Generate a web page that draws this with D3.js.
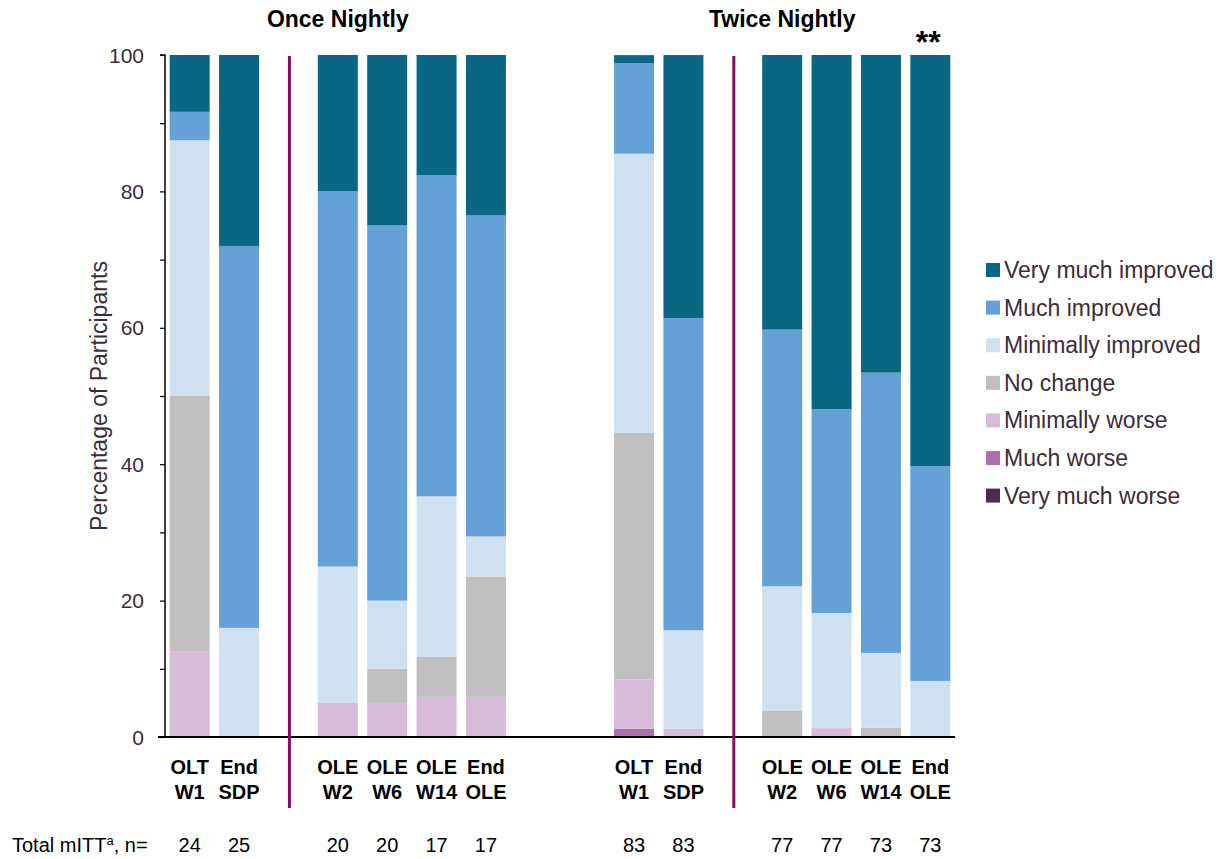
<!DOCTYPE html>
<html>
<head>
<meta charset="utf-8">
<script src="https://d3js.org/d3.v7.min.js"></script>
<style>
  html, body { margin: 0; padding: 0; background: #fff; }
  svg text { font-family: Arial, "Liberation Sans", sans-serif; }
</style>
</head>
<body>
<div id="chart"></div>
<script>
// Slots on the x axis: bars, dividers and the empty gap between the two groups
const slots = ['on-olt-w1', 'on-end-sdp', 'on-div', 'on-ole-w2', 'on-ole-w6', 'on-ole-w14', 'on-end-ole',
    'gap-1', 'gap-2',
    'tn-olt-w1', 'tn-end-sdp', 'tn-div', 'tn-ole-w2', 'tn-ole-w6', 'tn-ole-w14', 'tn-end-ole'];

const bars = ['on-olt-w1', 'on-end-sdp', 'on-ole-w2', 'on-ole-w6', 'on-ole-w14', 'on-end-ole',
    'tn-olt-w1', 'tn-end-sdp', 'tn-ole-w2', 'tn-ole-w6', 'tn-ole-w14', 'tn-end-ole'];
const labelTop = ['OLT', 'End', 'OLE', 'OLE', 'OLE', 'End', 'OLT', 'End', 'OLE', 'OLE', 'OLE', 'End'];
const labelBottom = ['W1', 'SDP', 'W2', 'W6', 'W14', 'OLE', 'W1', 'SDP', 'W2', 'W6', 'W14', 'OLE'];
const totalN = [24, 25, 20, 20, 17, 17, 83, 83, 77, 77, 73, 73];

const dividers = ['on-div', 'tn-div'];
const groups = ['Once Nightly', 'Twice Nightly'];
const groupFirst = ['on-olt-w1', 'tn-olt-w1'];
const groupLast = ['on-end-ole', 'tn-end-ole'];

// Percentages per response category (bar order as above)
const veryMuchWorse     = [0, 0, 0, 0, 0, 0, 0, 0, 0, 0, 0, 0];
const muchWorse         = [0, 0, 0, 0, 0, 0, 1.2, 0, 0, 0, 0, 0];
const minimallyWorse    = [12.5, 0, 5, 5, 5.88, 5.88, 7.23, 1.2, 0, 1.3, 0, 0];
const noChange          = [37.5, 0, 0, 5, 5.88, 17.65, 36.14, 0, 3.9, 0, 1.37, 0];
const minimallyImproved = [37.5, 16, 20, 10, 23.53, 5.88, 40.96, 14.46, 18.18, 16.88, 10.96, 8.22];
const muchImproved      = [4.17, 56, 55, 55, 47.06, 47.06, 13.25, 45.78, 37.66, 29.87, 41.1, 31.51];
const veryMuchImproved  = [8.33, 28, 20, 25, 17.65, 23.53, 1.2, 38.55, 40.26, 51.95, 46.58, 60.27];

const seriesNames = ['Very much worse', 'Much worse', 'Minimally worse', 'No change',
    'Minimally improved', 'Much improved', 'Very much improved'];
const seriesValues = [veryMuchWorse, muchWorse, minimallyWorse, noChange,
    minimallyImproved, muchImproved, veryMuchImproved];
const seriesColors = ['#4e2b4d', '#ad6eb0', '#d8bad9', '#bfbfbf', '#cfe0f1', '#65a1d6', '#096783'];

const yTicks = [0, 20, 40, 60, 80, 100];
const yMinorTicks = [0, 10, 20, 30, 40, 50, 60, 70, 80, 90, 100];

const width = 1225, height = 859;
const plot = { left: 165, right: 955, top: 55, bottom: 737 };
const textDark = '#3d2b3e';

const svg = d3.select('#chart').append('svg')
    .attr('width', width)
    .attr('height', height);

const x = d3.scaleBand().domain(slots).range([plot.left, plot.right]).paddingInner(0.19).paddingOuter(0.095);
const y = d3.scaleLinear().domain([0, 100]).range([plot.bottom, plot.top]);

// Build table for stacking
const table = bars.map((id, i) => {
    const row = { id };
    seriesNames.forEach((s, k) => { row[s] = seriesValues[k][i]; });
    return row;
});
const stacked = d3.stack().keys(seriesNames)(table);
const color = d3.scaleOrdinal().domain(seriesNames).range(seriesColors);

// Bars
svg.append('g').selectAll('g')
    .data(stacked)
    .enter()
    .append('g')
    .attr('fill', d => color(d.key))
    .selectAll('rect')
    .data(d => d.filter(p => p[1] - p[0] > 0))
    .enter()
    .append('rect')
    .attr('x', d => x(d.data.id))
    .attr('y', d => y(d[1]))
    .attr('width', x.bandwidth())
    .attr('height', d => y(d[0]) - y(d[1]));

// Y axis
const yAxis = svg.append('g').attr('transform', `translate(${plot.left},0)`);
yAxis.call(d3.axisLeft(y).tickValues(yMinorTicks).tickSize(5).tickFormat(''))
    .call(g => g.select('.domain').attr('stroke', '#000').attr('stroke-width', 1.5).attr('d', `M-5,${y(100)}H0V${y(0)}`))
    .call(g => g.selectAll('.tick line').attr('stroke', '#000').attr('stroke-width', 1.2));
svg.append('g')
    .selectAll('text')
    .data(yTicks)
    .enter()
    .append('text')
    .attr('x', plot.left - 21)
    .attr('y', d => y(d))
    .attr('dy', '0.36em')
    .attr('text-anchor', 'end')
    .attr('fill', textDark)
    .style('font-size', '21px')
    .text(d => d);

svg.append('text')
    .attr('transform', `translate(107,${(plot.top + plot.bottom) / 2}) rotate(-90)`)
    .attr('text-anchor', 'middle')
    .attr('fill', textDark)
    .style('font-size', '23px')
    .text('Percentage of Participants');

// X axis baseline
svg.append('line')
    .attr('x1', plot.left - 7).attr('x2', plot.right)
    .attr('y1', y(0)).attr('y2', y(0))
    .attr('stroke', '#000').attr('stroke-width', 2);

// Divider lines
svg.selectAll('.divider')
    .data(dividers)
    .enter()
    .append('line')
    .attr('x1', d => x(d) + x.bandwidth() / 2 + 1)
    .attr('x2', d => x(d) + x.bandwidth() / 2 + 1)
    .attr('y1', y(100) + 1)
    .attr('y2', 808)
    .attr('stroke', '#8b0b62')
    .attr('stroke-width', 3);

// Category labels
const catLabels = svg.append('g').selectAll('text')
    .data(bars)
    .enter()
    .append('text')
    .attr('text-anchor', 'middle')
    .attr('fill', '#000')
    .style('font-size', '20px')
    .style('font-weight', 'bold');
catLabels.append('tspan')
    .attr('x', d => x(d) + x.bandwidth() / 2)
    .attr('y', 774)
    .text((d, i) => labelTop[i]);
catLabels.append('tspan')
    .attr('x', d => x(d) + x.bandwidth() / 2)
    .attr('y', 799)
    .text((d, i) => labelBottom[i]);

// Group titles
svg.selectAll('.group-title')
    .data(groups)
    .enter()
    .append('text')
    .attr('x', (d, i) => (x(groupFirst[i]) + x(groupLast[i]) + x.bandwidth()) / 2)
    .attr('y', 27)
    .attr('text-anchor', 'middle')
    .attr('fill', '#000')
    .style('font-size', '23px')
    .style('font-weight', 'bold')
    .text(d => d);

svg.append('text')
    .attr('x', x('tn-end-ole') + x.bandwidth() / 2 - 2)
    .attr('y', 53)
    .attr('text-anchor', 'middle')
    .attr('fill', '#000')
    .style('font-size', '32px')
    .style('font-weight', 'bold')
    .text('**');

// Total n row
const nRow = svg.append('text')
    .attr('x', 12)
    .attr('y', 852)
    .attr('fill', '#000')
    .style('font-size', '20px');
nRow.append('tspan').text('Total mITT');
nRow.append('tspan').attr('dy', -7).style('font-size', '13px').text('a');
nRow.append('tspan').attr('dy', 7).text(', n=');

svg.append('g').selectAll('text')
    .data(bars)
    .enter()
    .append('text')
    .attr('x', d => x(d) + x.bandwidth() / 2)
    .attr('y', 852)
    .attr('text-anchor', 'middle')
    .attr('fill', '#000')
    .style('font-size', '20px')
    .text((d, i) => totalN[i]);

// Legend (top item first)
const legendItems = seriesNames.slice().reverse();
const legend = svg.append('g').selectAll('g')
    .data(legendItems)
    .enter()
    .append('g')
    .attr('transform', (d, i) => `translate(986, ${270 + i * 37.6})`);
legend.append('rect')
    .attr('x', 0).attr('y', -7)
    .attr('width', 14).attr('height', 14)
    .attr('fill', d => color(d));
legend.append('text')
    .attr('x', 18)
    .attr('y', 0)
    .attr('dy', '0.35em')
    .attr('fill', textDark)
    .style('font-size', '23px')
    .text(d => d);
</script>
</body>
</html>
